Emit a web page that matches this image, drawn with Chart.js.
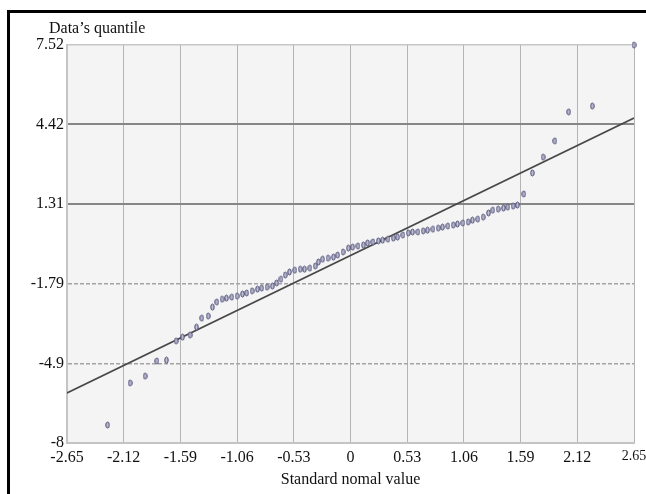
<!DOCTYPE html>
<html>
<head>
<meta charset="utf-8">
<script src="https://cdn.jsdelivr.net/npm/chart.js@4.4.1/dist/chart.umd.min.js"></script>
<style>
  html, body { margin: 0; padding: 0; background: #fff; }
  #wrap { position: relative; width: 646px; height: 494px; overflow: hidden; }
  #qq { position: absolute; left: 0; top: 0; }
  #frame {
    position: absolute; left: 7px; top: 10px; width: 650px; height: 500px;
    border-left: 3px solid #000; border-top: 3px solid #000; pointer-events: none;
  }
</style>
</head>
<body>
<div id="wrap">
  <canvas id="qq" width="646" height="494"></canvas>
  <div id="frame"></div>
</div>
<script>
// theoretical (standard normal) quantiles and the matching data quantiles
const normalQuantiles = [
  -2.27, -2.06, -1.92, -1.81, -1.72, -1.63, -1.57, -1.50, -1.44, -1.39,
  -1.33, -1.29, -1.25, -1.20, -1.16, -1.11, -1.06, -1.01, -0.97, -0.92,
  -0.87, -0.83, -0.78, -0.73, -0.69, -0.65, -0.61, -0.57, -0.52, -0.47,
  -0.43, -0.38, -0.33, -0.30, -0.26, -0.21, -0.16, -0.12, -0.07, -0.02,
  0.02, 0.07, 0.12, 0.16, 0.21, 0.26, 0.30, 0.35, 0.40, 0.44,
  0.49, 0.54, 0.58, 0.63, 0.68, 0.72, 0.77, 0.82, 0.86, 0.91,
  0.96, 1.00, 1.05, 1.10, 1.14, 1.19, 1.24, 1.29, 1.33, 1.38,
  1.43, 1.47, 1.52, 1.56, 1.62, 1.70, 1.80, 1.91, 2.04, 2.26,
  2.65
];
const dataQuantiles = [
  -7.30, -5.66, -5.39, -4.80, -4.77, -4.02, -3.87, -3.79, -3.48, -3.13,
  -3.05, -2.70, -2.50, -2.39, -2.35, -2.31, -2.27, -2.19, -2.15, -2.07,
  -2.00, -1.96, -1.92, -1.88, -1.76, -1.61, -1.45, -1.33, -1.26, -1.22,
  -1.22, -1.18, -1.10, -0.94, -0.83, -0.79, -0.75, -0.67, -0.55, -0.40,
  -0.36, -0.32, -0.28, -0.20, -0.16, -0.12, -0.09, -0.05, -0.01, 0.03,
  0.11, 0.19, 0.23, 0.23, 0.27, 0.30, 0.34, 0.38, 0.42, 0.46,
  0.50, 0.54, 0.58, 0.62, 0.69, 0.73, 0.81, 0.97, 1.08, 1.12,
  1.16, 1.20, 1.24, 1.28, 1.71, 2.53, 3.15, 3.78, 4.91, 5.14,
  7.52
];
// fitted reference line end points
const refLineX = [-2.65, 2.65];
const refLineY = [-6.05, 4.67];

const xTicks = [-2.65, -2.12, -1.59, -1.06, -0.53, 0, 0.53, 1.06, 1.59, 2.12, 2.65];
const xTickLabels = ["-2.65", "-2.12", "-1.59", "-1.06", "-0.53", "0", "0.53", "1.06", "1.59", "2.12", "2.65"];
const yTicks = [-8, -4.9, -1.79, 1.31, 4.42, 7.52];
const yTickLabels = ["-8", "-4.9", "-1.79", "1.31", "4.42", "7.52"];
const darkRows = [1.31, 4.42];
const dashedRows = [-4.9, -1.79];

// small hollow ellipse used as the point marker
const marker = document.createElement("canvas");
marker.width = 5;
marker.height = 8;
(function () {
  const m = marker.getContext("2d");
  m.beginPath();
  m.ellipse(2.5, 4, 1.7, 3, 0, 0, Math.PI * 2);
  m.fillStyle = "#c0c0d4";
  m.fill();
  m.lineWidth = 1;
  m.strokeStyle = "#4a4a74";
  m.stroke();
})();

const serif = "'Liberation Serif', 'Times New Roman', serif";

function rowValue(ctx) {
  return ctx.tick ? ctx.tick.value : null;
}

const plotBack = {
  id: "plotBack",
  beforeDraw(chart) {
    const a = chart.chartArea;
    const c = chart.ctx;
    c.save();
    c.fillStyle = "#f4f4f4";
    c.fillRect(a.left, a.top, a.right - a.left, a.bottom - a.top);
    c.restore();
  },
  afterDraw(chart) {
    const c = chart.ctx;
    c.save();
    c.font = "16px " + serif;
    c.fillStyle = "#111";
    c.textBaseline = "alphabetic";
    c.fillText("Data\u2019s quantile", 49, 33);
    c.restore();
  }
};

const points = normalQuantiles.map((x, i) => ({ x: x, y: dataQuantiles[i] }));
const line = refLineX.map((x, i) => ({ x: x, y: refLineY[i] }));

new Chart(document.getElementById("qq"), {
  type: "scatter",
  data: {
    datasets: [
      {
        label: "Reference line",
        data: line,
        showLine: true,
        borderColor: "#484848",
        borderWidth: 1.6,
        pointRadius: 0,
        order: 2
      },
      {
        label: "Quantiles",
        data: points,
        pointStyle: marker,
        pointRadius: 3,
        clip: false,
        order: 1
      }
    ]
  },
  options: {
    responsive: false,
    animation: false,
    events: [],
    layout: { padding: { top: 45, right: 12, left: 0, bottom: 0 } },
    plugins: {
      legend: { display: false },
      tooltip: { enabled: false }
    },
    scales: {
      x: {
        type: "linear",
        min: -2.65,
        max: 2.65,
        afterBuildTicks(s) { s.ticks = xTicks.map(v => ({ value: v })); },
        afterFit(s) { s.height = 51; s.paddingLeft = 0; s.paddingRight = 0; },
        ticks: {
          callback: (v, i) => xTickLabels[i],
          // the last label sits at the canvas edge, so it is drawn a little smaller
          font: ctx => ({ family: serif, size: ctx.index === xTicks.length - 1 ? 14 : 16 }),
          color: "#111",
          padding: 5,
          maxRotation: 0,
          autoSkip: false
        },
        grid: {
          color: "#b4b4b4",
          lineWidth: 1,
          drawTicks: false
        },
        border: { color: "#c4c4c4", width: 2 },
        title: {
          display: true,
          text: "Standard nomal value",
          font: { family: serif, size: 16 },
          color: "#111",
          padding: { top: 2, bottom: 5 }
        }
      },
      y: {
        type: "linear",
        min: -8,
        max: 7.52,
        afterBuildTicks(s) { s.ticks = yTicks.map(v => ({ value: v })); },
        afterFit(s) { s.width = 67; s.paddingTop = 0; s.paddingBottom = 0; },
        ticks: {
          callback: (v, i) => yTickLabels[i],
          font: { family: serif, size: 16 },
          color: "#111",
          padding: 3,
          autoSkip: false
        },
        grid: {
          color: ctx => darkRows.includes(rowValue(ctx)) ? "#868686"
            : dashedRows.includes(rowValue(ctx)) ? "#a4a4a4" : "#c6c6c6",
          lineWidth: ctx => darkRows.includes(rowValue(ctx)) ? 2 : 1.5,
          drawTicks: false
        },
        border: {
          color: "#c4c4c4",
          width: 2,
          dash: ctx => dashedRows.includes(rowValue(ctx)) ? [4, 2] : []
        }
      }
    }
  },
  plugins: [plotBack]
});
</script>
</body>
</html>
